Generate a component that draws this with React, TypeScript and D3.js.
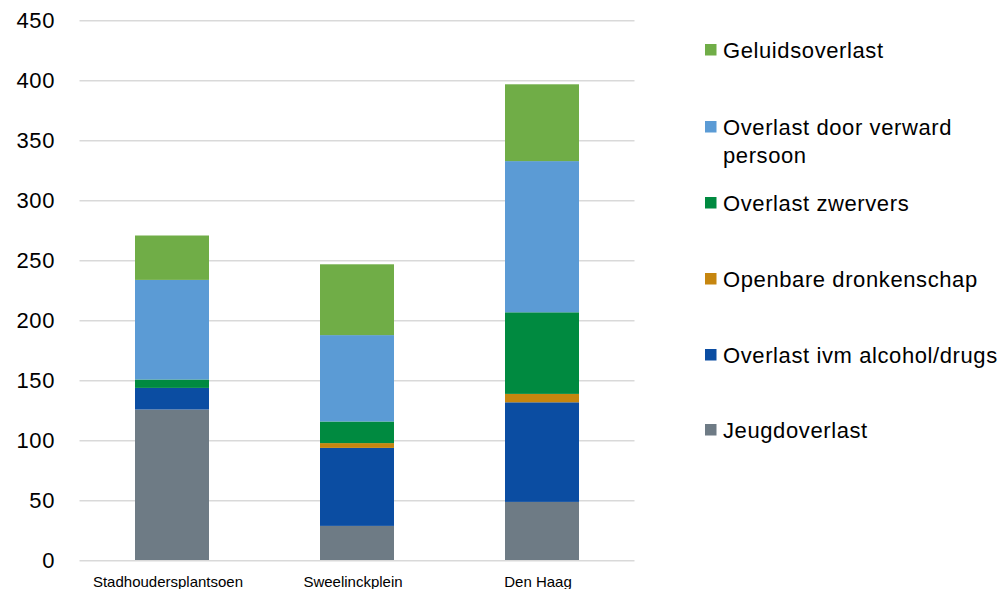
import React from "react";
import * as d3 from "d3";

const categories = ["Stadhoudersplantsoen", "Sweelinckplein", "Den Haag"];
const seriesNames = [
  "Jeugdoverlast",
  "Overlast ivm alcohol/drugs",
  "Openbare dronkenschap",
  "Overlast zwervers",
  "Overlast door verward persoon",
  "Geluidsoverlast",
];
const jeugdoverlast = [126, 29, 49];
const alcoholDrugs = [18, 65, 83];
const dronkenschap = [0, 4, 7];
const zwervers = [7, 18, 68];
const verward = [83, 72, 126];
const geluid = [37, 59, 64];
const yTicks = [0, 50, 100, 150, 200, 250, 300, 350, 400, 450];
const colors = ["#6E7B85", "#0B4DA2", "#C6860F", "#008A40", "#5B9BD5", "#70AD47"];

const seriesValues = [jeugdoverlast, alcoholDrugs, dronkenschap, zwervers, verward, geluid];

export default function App() {
  const W = 1008, H = 589;
  const left = 79.5, right = 634.5, top = 20.7, bottom = 560.7;
  const x = d3.scaleBand<string>().domain(categories).range([left, right]).padding(0);
  const y = d3.scaleLinear().domain([0, 450]).range([bottom, top]);
  const barW = x.bandwidth() * 0.4;

  const rows = categories.map((c, i) => {
    const r: any = { cat: c };
    seriesNames.forEach((s, j) => (r[s] = seriesValues[j][i]));
    return r;
  });
  const stacked = d3.stack<any>().keys(seriesNames)(rows);

  const legendOrder = [5, 4, 3, 2, 1, 0];
  const legendY = [50, 127, 203, 279, 355, 430];
  const big = { fontSize: 22, letterSpacing: 0.6 } as any;

  return (
    <svg width={W} height={H} style={{ position: "absolute", left: 0, top: 0, fontFamily: "'Liberation Sans', Arial, sans-serif" }}>
      <rect width={W} height={H} fill="#fff" />
      {yTicks.map((t) => (
        <g key={t}>
          {t > 0 && <line x1={left} x2={right} y1={y(t)} y2={y(t)} stroke="#d9d9d9" strokeWidth={1.5} />}
          <text x={55} y={y(t)} dy="0.35em" textAnchor="end" {...big} fill="#000">{t}</text>
        </g>
      ))}
      {stacked.map((layer, j) => (
        <g key={layer.key} fill={colors[j]}>
          {layer.map((d, i) => (
            d[1] - d[0] > 0 ? (
              <rect key={i} x={(x(categories[i]) as number) + (x.bandwidth() - barW) / 2} y={y(d[1])} width={barW} height={y(d[0]) - y(d[1])} />
            ) : null
          ))}
        </g>
      ))}
      <line x1={left} x2={right} y1={bottom} y2={bottom} stroke="#d9d9d9" strokeWidth={1.5} />
      {categories.map((c) => (
        <text key={c} x={(x(c) as number) + x.bandwidth() / 2 - 4} y={582} dy="0.35em" textAnchor="middle" fontSize={15} fill="#000">{c}</text>
      ))}
      {legendOrder.map((j, k) => (
        <g key={j}>
          <rect x={705} y={legendY[k] - 6} width={11.5} height={11.5} fill={colors[j]} />
          {j === 4 ? (
            <text x={723} y={legendY[k]} dy="0.35em" {...big} fill="#000">
              <tspan x={723}>Overlast door verward</tspan>
              <tspan x={723} dy={28}>persoon</tspan>
            </text>
          ) : (
            <text x={723} y={legendY[k]} dy="0.35em" {...big} fill="#000">{seriesNames[j]}</text>
          )}
        </g>
      ))}
    </svg>
  );
}
